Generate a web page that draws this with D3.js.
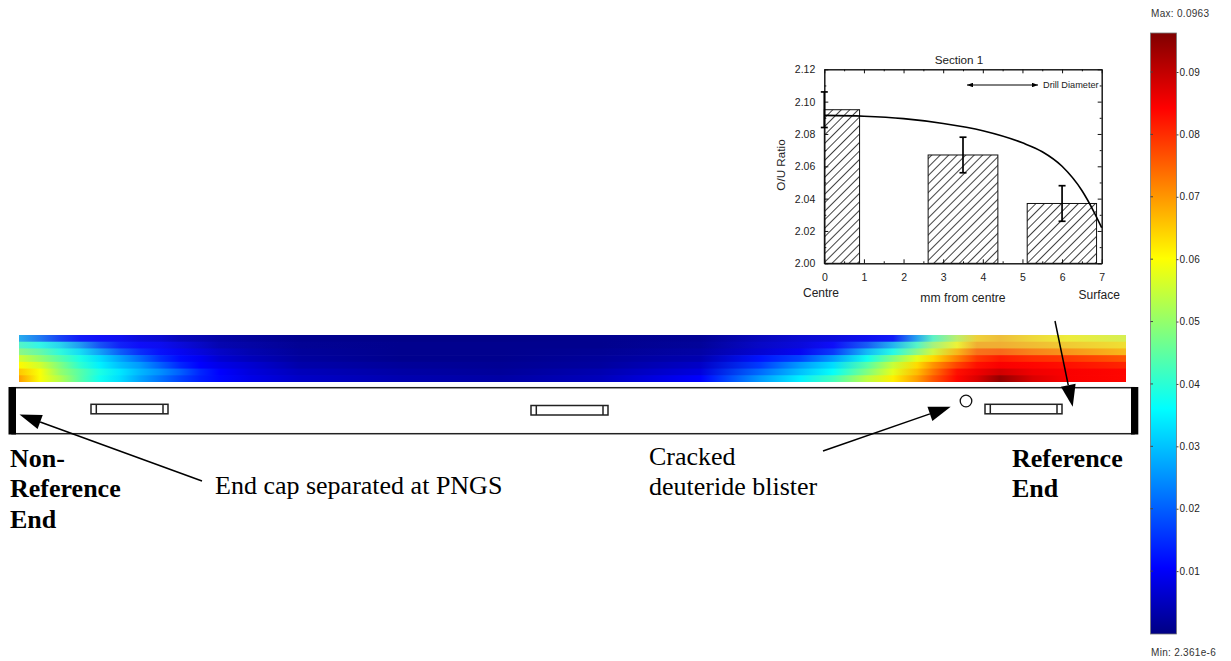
<!DOCTYPE html>
<html>
<head>
<meta charset="utf-8">
<script src="https://d3js.org/d3.v7.min.js"></script>
<style>
  body { margin: 0; background: #fff; }
  svg { display: block; }
  text { font-family: "Liberation Sans", sans-serif; fill: #222; }
  .note { font-family: "Liberation Serif", serif; font-size: 26px; fill: #000; }
  .note.b { font-weight: bold; }
</style>
</head>
<body>
<div id="chart"></div>
<script>
// colour bar
var colorMax = 0.0963;
var barTicks = [0.01, 0.02, 0.03, 0.04, 0.05, 0.06, 0.07, 0.08, 0.09];

// heat strip: axial positions, one row per radial layer (top to bottom), as fraction of colorMax
var axial = [0, 21, 41, 61, 81, 101, 121, 141, 161, 181, 201, 231, 281, 381, 481, 581, 681, 741, 781, 814, 848, 874, 898, 914, 938, 958, 981, 1014, 1048, 1107];
var layer1 = [.28, .22, .16, .12, .11, .10, .08, .07, .05, .04, .03, .02, .01, .005, .005, .01, .015, .05, .07, .08, .10, .12, .27, .42, .55, .67, .70, .66, .63, .59];
var layer2 = [.42, .38, .33, .26, .18, .13, .11, .10, .08, .06, .04, .03, .015, .01, .01, .01, .02, .06, .08, .11, .19, .29, .42, .52, .62, .72, .72, .70, .68, .65];
var layer3 = [.50, .46, .40, .34, .27, .20, .15, .12, .10, .08, .06, .04, .02, .01, .01, .015, .03, .07, .10, .16, .30, .39, .50, .58, .70, .78, .79, .76, .74, .70];
var layer4 = [.58, .52, .46, .40, .34, .28, .22, .16, .12, .10, .07, .05, .025, .01, .01, .02, .04, .13, .18, .27, .39, .50, .60, .66, .75, .82, .85, .83, .82, .79];
var layer5 = [.63, .58, .50, .42, .36, .31, .27, .21, .15, .11, .09, .07, .035, .02, .015, .025, .06, .17, .27, .34, .46, .57, .66, .73, .81, .86, .88, .87, .86, .84];
var layer6 = [.68, .62, .52, .46, .40, .35, .30, .26, .21, .15, .11, .08, .05, .03, .02, .04, .08, .22, .31, .38, .50, .60, .69, .76, .86, .89, .92, .89, .88, .87];
var layer7 = [.72, .62, .55, .46, .39, .34, .28, .23, .18, .14, .115, .09, .06, .04, .03, .05, .11, .27, .36, .44, .56, .64, .72, .79, .87, .91, .98, .91, .88, .87];
var layers = [layer1, layer2, layer3, layer4, layer5, layer6, layer7];

// inset O/U plot
var barStart = [0, 2.62, 5.12];
var barEnd = [0.89, 4.38, 6.87];
var barRatio = [2.095, 2.067, 2.037];
var errX = [0, 3.5, 6];
var errLow = [2.084, 2.056, 2.026];
var errHigh = [2.106, 2.078, 2.048];
var curveX = [0, 1, 2, 3, 4, 5, 5.5, 6, 6.5, 6.8, 7];
var curveY = [2.0915, 2.091, 2.0895, 2.0865, 2.082, 2.0745, 2.069, 2.060, 2.045, 2.032, 2.022];

var svg = d3.select("#chart").append("svg")
  .attr("width", 1231)
  .attr("height", 661);
var defs = svg.append("defs");

// jet colours
var jet = d3.scaleLinear()
  .domain([0, 0.11, 0.375, 0.625, 0.875, 1])
  .range(["#000083", "#0000ff", "#00ffff", "#ffff00", "#ff0000", "#800000"]);

// top layers look washed out in the original
var dull = [0.35, 0.3, 0.15, 0, 0, 0, 0];
function layerColor(v, i) {
  return d3.interpolateRgb(jet(v), "rgb(205,210,170)")(dull[i] * Math.min(1, v * 2));
}

// heat strip
var heatX = d3.scaleLinear().domain([0, 1107]).range([19, 1126]);
var heatY = d3.scaleBand().domain(d3.range(layers.length)).range([335, 382]);

layers.forEach(function (row, i) {
  var grad = defs.append("linearGradient").attr("id", "layer" + i);
  row.forEach(function (v, j) {
    grad.append("stop")
      .attr("offset", axial[j] / 1107)
      .attr("stop-color", layerColor(v, i));
  });
  svg.append("rect")
    .attr("x", heatX(0))
    .attr("y", heatY(i))
    .attr("width", heatX(1107) - heatX(0))
    .attr("height", heatY.bandwidth() + 0.7 * (i < layers.length - 1))
    .attr("fill", "url(#layer" + i + ")");
});

// colour bar
var barY = d3.scaleLinear().domain([0, colorMax]).range([633.5, 32.7]);
var barGrad = defs.append("linearGradient")
  .attr("id", "jetbar")
  .attr("x1", 0).attr("y1", 1).attr("x2", 0).attr("y2", 0);
[0, 0.11, 0.375, 0.625, 0.875, 1].forEach(function (t) {
  barGrad.append("stop").attr("offset", t).attr("stop-color", jet(t));
});
svg.append("rect")
  .attr("x", 1150.5).attr("y", 33)
  .attr("width", 26).attr("height", 601)
  .attr("fill", "url(#jetbar)")
  .attr("stroke", "#777").attr("stroke-width", 0.8);

var barAxis = svg.append("g")
  .attr("transform", "translate(1176.5,0)")
  .call(d3.axisRight(barY).tickValues(barTicks).tickFormat(d3.format(".2f")).tickSize(2).tickPadding(1));
barAxis.select(".domain").remove();
barAxis.selectAll("line").attr("stroke", "#444");
barAxis.selectAll("text").style("font-size", "10px").attr("fill", "#333").style("letter-spacing", "0.3px");
svg.append("g").selectAll("line").data(barTicks).enter().append("line")
  .attr("x1", 1150.5).attr("x2", 1153)
  .attr("y1", function (d) { return barY(d); })
  .attr("y2", function (d) { return barY(d); })
  .attr("stroke", "#444");

svg.append("text").attr("x", 1151).attr("y", 17).text("Max: 0.0963")
  .style("font-size", "10px").style("letter-spacing", "0.3px").style("fill", "#333");
svg.append("text").attr("x", 1151).attr("y", 656).text("Min: 2.361e-6")
  .style("font-size", "10px").style("letter-spacing", "0.3px").style("fill", "#333");

// fuel element sketch
svg.append("rect")
  .attr("x", 12).attr("y", 387.7)
  .attr("width", 1122).attr("height", 46)
  .attr("fill", "#fff").attr("stroke", "#222").attr("stroke-width", 1.5);
svg.append("rect").attr("x", 8.5).attr("y", 387).attr("width", 7.5).attr("height", 47.5).attr("fill", "#000");
svg.append("rect").attr("x", 1131).attr("y", 387).attr("width", 7.3).attr("height", 47.5).attr("fill", "#000");

function slot(x1, y1) {
  svg.append("rect").attr("x", x1).attr("y", y1).attr("width", 77).attr("height", 9.5)
    .attr("fill", "#fff").attr("stroke", "#222").attr("stroke-width", 1.5);
  [5.3, 72].forEach(function (dx) {
    svg.append("line").attr("x1", x1 + dx).attr("x2", x1 + dx)
      .attr("y1", y1).attr("y2", y1 + 9.5)
      .attr("stroke", "#222").attr("stroke-width", 1.5);
  });
}
slot(91, 404.3);
slot(531, 405.5);
slot(985, 404.3);

svg.append("circle").attr("cx", 966).attr("cy", 401).attr("r", 5.8)
  .attr("fill", "#fff").attr("stroke", "#111").attr("stroke-width", 1.3);

function arrow(x1, y1, x2, y2) {
  var a = Math.atan2(y2 - y1, x2 - x1), len = 22, half = 7.5;
  var bx = x2 - len * Math.cos(a), by = y2 - len * Math.sin(a);
  svg.append("line").attr("x1", x1).attr("y1", y1).attr("x2", bx).attr("y2", by)
    .attr("stroke", "#000").attr("stroke-width", 1.5);
  svg.append("path")
    .attr("d", "M" + x2 + "," + y2 +
      "L" + (bx - half * Math.sin(a)) + "," + (by + half * Math.cos(a)) +
      "L" + (bx + half * Math.sin(a)) + "," + (by - half * Math.cos(a)) + "Z")
    .attr("fill", "#000");
}
arrow(202, 481, 19.5, 414.5);
arrow(823, 451, 950.7, 406.7);
arrow(1055, 321, 1072.7, 406.7);

// notes
function note(x, y, s, bold) {
  svg.append("text").attr("class", bold ? "note b" : "note").attr("x", x).attr("y", y).text(s);
}
note(10, 467, "Non-", true);
note(10, 497, "Reference", true);
note(10, 528, "End", true);
note(215, 494, "End cap separated at PNGS");
note(649, 465, "Cracked");
note(649, 495, "deuteride blister");
note(1012, 467, "Reference", true);
note(1012, 497, "End", true);

// inset plot
var x = d3.scaleLinear().domain([0, 7]).range([824.3, 1101.7]);
var y = d3.scaleLinear().domain([2.00, 2.12]).range([263.3, 69.3]);
var inset = svg.append("g");

defs.append("pattern")
  .attr("id", "hatch")
  .attr("patternUnits", "userSpaceOnUse")
  .attr("width", 6).attr("height", 6)
  .attr("patternTransform", "rotate(45)")
  .append("line")
    .attr("x1", 0).attr("y1", 0).attr("x2", 0).attr("y2", 6)
    .attr("stroke", "#111").attr("stroke-width", 1.6);

inset.selectAll("rect.bar").data(barRatio).enter().append("rect")
  .attr("class", "bar")
  .attr("x", function (d, i) { return x(barStart[i]); })
  .attr("y", function (d) { return y(d); })
  .attr("width", function (d, i) { return x(barEnd[i]) - x(barStart[i]); })
  .attr("height", function (d) { return y(2) - y(d); })
  .attr("fill", "url(#hatch)")
  .attr("stroke", "#111").attr("stroke-width", 1);

function axisStyle(g) {
  g.selectAll("path.domain").attr("stroke", "#111");
  g.selectAll("line").attr("stroke", "#111");
  g.selectAll("text").style("font-size", "10.5px").attr("fill", "#222");
}
var majorX = d3.range(0, 8);
var minorX = majorX.slice(0, 7).map(function (d) { return d + 0.5; });
var majorY = [2.00, 2.02, 2.04, 2.06, 2.08, 2.10, 2.12];
var minorY = [2.01, 2.03, 2.05, 2.07, 2.09, 2.11];

inset.append("g").attr("transform", "translate(0,263.3)")
  .call(d3.axisBottom(x).tickValues(majorX).tickFormat(d3.format("d")).tickSizeInner(-4).tickSizeOuter(0).tickPadding(10))
  .call(axisStyle);
inset.append("g").attr("transform", "translate(0,263.3)")
  .call(d3.axisBottom(x).tickValues(minorX).tickFormat("").tickSizeInner(-2).tickSizeOuter(0))
  .call(axisStyle);
inset.append("g").attr("transform", "translate(0,69.3)")
  .call(d3.axisTop(x).tickValues(majorX).tickFormat("").tickSizeInner(-4).tickSizeOuter(0))
  .call(axisStyle);
inset.append("g").attr("transform", "translate(0,69.3)")
  .call(d3.axisTop(x).tickValues(minorX).tickFormat("").tickSizeInner(-2).tickSizeOuter(0))
  .call(axisStyle);
inset.append("g").attr("transform", "translate(824.3,0)")
  .call(d3.axisLeft(y).tickValues(majorY).tickFormat(d3.format(".2f")).tickSizeInner(-4).tickSizeOuter(0).tickPadding(9))
  .call(axisStyle);
inset.append("g").attr("transform", "translate(824.3,0)")
  .call(d3.axisLeft(y).tickValues(minorY).tickFormat("").tickSizeInner(-2).tickSizeOuter(0))
  .call(axisStyle);
inset.append("g").attr("transform", "translate(1101.7,0)")
  .call(d3.axisRight(y).tickValues(majorY).tickFormat("").tickSizeInner(-4).tickSizeOuter(0))
  .call(axisStyle);
inset.append("g").attr("transform", "translate(1101.7,0)")
  .call(d3.axisRight(y).tickValues(minorY).tickFormat("").tickSizeInner(-2).tickSizeOuter(0))
  .call(axisStyle);

// model curve
inset.append("path")
  .attr("d", d3.line()
    .x(function (d, i) { return x(curveX[i]); })
    .y(function (d) { return y(d); })
    .curve(d3.curveMonotoneX)(curveY))
  .attr("fill", "none").attr("stroke", "#000").attr("stroke-width", 1.6);

// error bars
errX.forEach(function (d, i) {
  var g = inset.append("g").attr("stroke", "#000").attr("stroke-width", 1.7);
  g.append("line").attr("x1", x(d)).attr("x2", x(d)).attr("y1", y(errLow[i])).attr("y2", y(errHigh[i]));
  g.append("line").attr("x1", x(d) - 3.5).attr("x2", x(d) + 3.5).attr("y1", y(errLow[i])).attr("y2", y(errLow[i]));
  g.append("line").attr("x1", x(d) - 3.5).attr("x2", x(d) + 3.5).attr("y1", y(errHigh[i])).attr("y2", y(errHigh[i]));
});

// drill diameter marker
defs.append("marker").attr("id", "tip")
  .attr("viewBox", "0 0 8 6").attr("refX", 8).attr("refY", 3)
  .attr("markerWidth", 6).attr("markerHeight", 4.5).attr("orient", "auto-start-reverse")
  .append("path").attr("d", "M0,0L8,3L0,6Z").attr("fill", "#000");
inset.append("line")
  .attr("x1", 967).attr("x2", 1038).attr("y1", 85).attr("y2", 85)
  .attr("stroke", "#000").attr("stroke-width", 1)
  .attr("marker-start", "url(#tip)").attr("marker-end", "url(#tip)");
inset.append("text").attr("x", 1043).attr("y", 88).text("Drill Diameter").style("font-size", "9.2px");

// inset labels
inset.append("text").attr("x", 959).attr("y", 64).attr("text-anchor", "middle").text("Section 1").style("font-size", "11.7px");
inset.append("text").attr("x", 803).attr("y", 297).text("Centre").style("font-size", "12px");
inset.append("text").attr("x", 963).attr("y", 302).attr("text-anchor", "middle").text("mm from centre").style("font-size", "12.2px");
inset.append("text").attr("x", 1078.5).attr("y", 299).text("Surface").style("font-size", "12px");
inset.append("text")
  .attr("transform", "translate(785,165) rotate(-90)")
  .attr("text-anchor", "middle")
  .text("O/U Ratio")
  .style("font-size", "11.7px");
</script>
</body>
</html>
